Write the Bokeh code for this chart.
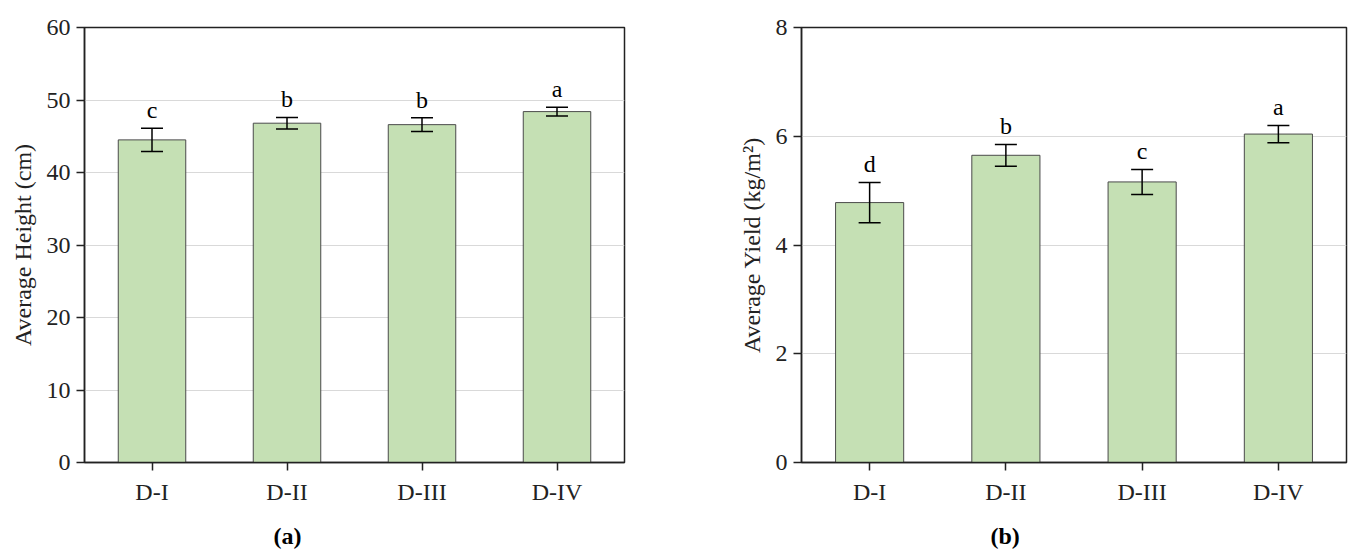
from bokeh.plotting import figure
from bokeh.models import ColumnDataSource, Range1d, FactorRange, Whisker, TeeHead, Title, FixedTicker
from bokeh.layouts import row
from bokeh.embed import file_html
from bokeh.resources import INLINE
from bokeh.core.properties import value

categories = ["D-I", "D-II", "D-III", "D-IV"]

height_mean = [44.5, 46.8, 46.6, 48.4]
height_err = [1.6, 0.8, 0.95, 0.6]
height_letters = ["c", "b", "b", "a"]

yield_mean = [4.78, 5.65, 5.16, 6.04]
yield_err = [0.37, 0.20, 0.23, 0.16]
yield_letters = ["d", "b", "c", "a"]

FONT = "Liberation Serif"
FS = "24px"
FRAME_H = 435
BOTTOM = 88


def make_panel(means, errs, letters, ymax, ystep, ylabel, caption, mb_left, mb_right, frame_w):
    src = ColumnDataSource(dict(
        x=categories,
        top=means,
        upper=[m + e for m, e in zip(means, errs)],
        lower=[m - e for m, e in zip(means, errs)],
        letter=letters,
    ))
    p = figure(x_range=FactorRange(factors=categories, range_padding=0),
               y_range=Range1d(0, ymax),
               frame_width=frame_w, frame_height=FRAME_H,
               min_border_left=mb_left, min_border_right=mb_right,
               min_border_top=27, min_border_bottom=BOTTOM,
               output_backend="svg", toolbar_location=None,
               background_fill_color="white", border_fill_color="white")
    p.vbar(x="x", top="top", width=0.5, bottom=0, source=src,
           fill_color="#c5e0b4", line_color="#4a4a4a", line_width=1)
    w = Whisker(base="x", upper="upper", lower="lower", source=src,
                line_color="black", line_width=1.5, level="overlay",
                upper_head=TeeHead(size=22, line_color="black", line_width=1.5),
                lower_head=TeeHead(size=22, line_color="black", line_width=1.5))
    p.add_layout(w)
    p.text(x="x", y="upper", text="letter", source=src,
           text_font=value(FONT), text_font_size=FS, text_color="black",
           text_align="center", text_baseline="alphabetic", y_offset=-18)

    p.outline_line_color = "#222222"
    p.outline_line_width = 1.5
    p.xgrid.grid_line_color = None
    p.ygrid.grid_line_color = "#d9d9d9"
    p.ygrid.grid_line_width = 1

    p.yaxis.ticker = FixedTicker(ticks=list(range(0, ymax + 1, ystep)))
    for ax in (p.xaxis[0], p.yaxis[0]):
        ax.axis_line_color = "#222222"
        ax.axis_line_width = 1.5
        ax.major_tick_line_color = "#222222"
        ax.major_tick_line_width = 1.5
        ax.major_tick_out = 8
        ax.major_tick_in = 0
        ax.minor_tick_line_color = None
        ax.major_label_text_font = FONT
        ax.major_label_text_font_size = FS
        ax.major_label_text_color = "#222222"
    p.xaxis.major_label_standoff = 8
    p.yaxis.major_label_standoff = 6
    p.yaxis.axis_label = ylabel
    p.yaxis.axis_label_text_font = FONT
    p.yaxis.axis_label_text_font_size = FS
    p.yaxis.axis_label_text_font_style = "normal"
    p.yaxis.axis_label_text_color = "#222222"
    p.yaxis.axis_label_standoff = 8

    cap = Title(text="(" + caption + ")", align="left", offset=189, standoff=26,
                text_font=FONT, text_font_size=FS, text_font_style="bold",
                text_color="black")
    p.add_layout(cap, "below")
    return p


p1 = make_panel(height_mean, height_err, height_letters, 60, 10,
                "Average Height (cm)", "a", 84, 76, 540)
p2 = make_panel(yield_mean, yield_err, yield_letters, 8, 2,
                "Average Yield (kg/m\u00b2)", "b", 101, 2, 545)

layout = row(p1, p2)
open("out.html", "w").write(file_html(layout, INLINE))
